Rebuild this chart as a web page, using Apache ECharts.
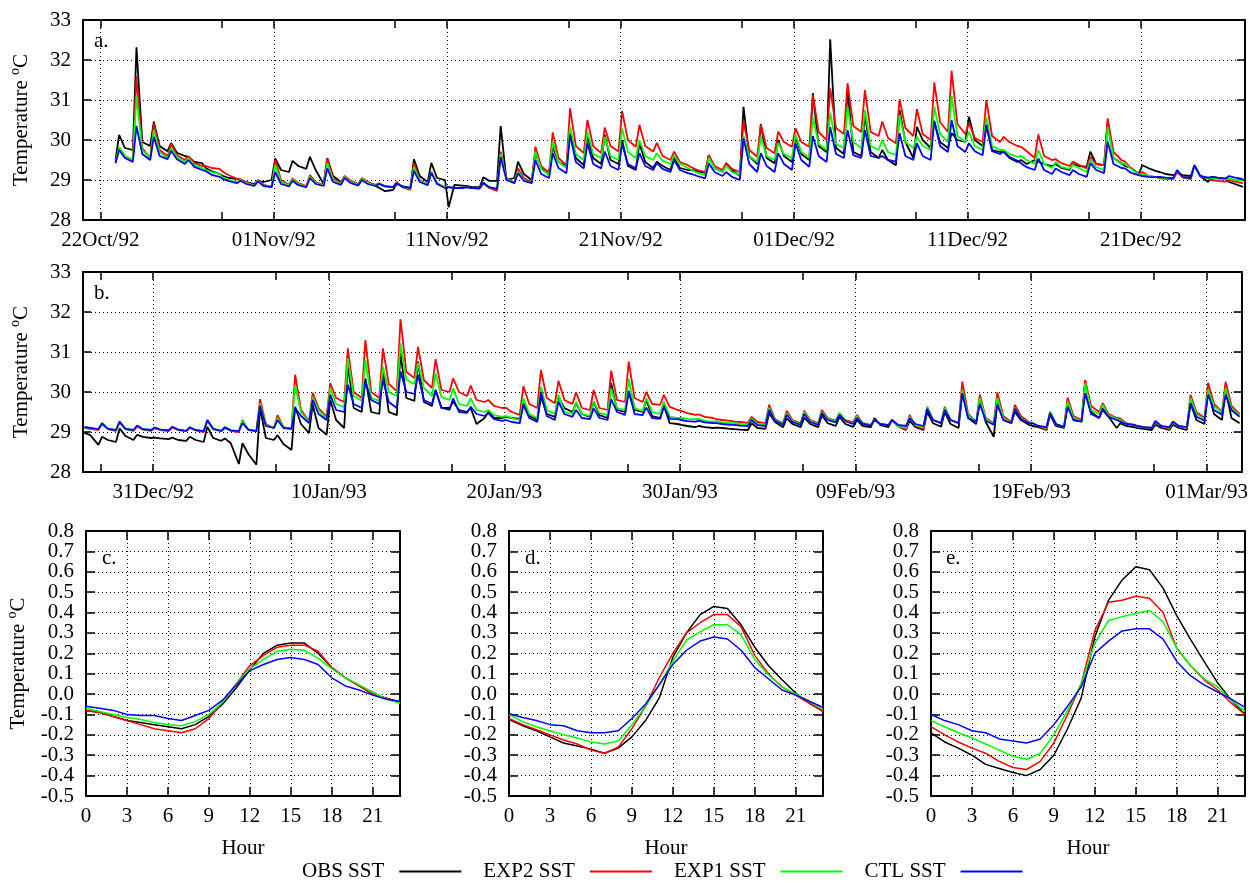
<!DOCTYPE html>
<html><head><meta charset="utf-8">
<script src="https://cdn.jsdelivr.net/npm/echarts@6/dist/echarts.min.js"></script>
<style>html,body{margin:0;padding:0;background:#fff}#c{width:1251px;height:883px}</style>
</head><body><div id="c"></div>
<script>
// ---------------- DATA ----------------
// x values are days since 21 Oct 1992 00:00
const seriesNames = ['OBS SST', 'EXP2 SST', 'EXP1 SST', 'CTL SST'];
const seriesColors = ['#000000', '#ff0000', '#00ff00', '#0000ff'];

const rangeA = [0, 67];            // 21Oct/92 .. 27Dec/92
const tickDaysA = [1, 11, 21, 31, 41, 51, 61];
const tickLabelsA = ['22Oct/92', '01Nov/92', '11Nov/92', '21Nov/92', '01Dec/92', '11Dec/92', '21Dec/92'];
const minorDaysA = [8, 18, 28, 38, 48, 58];

const rangeB = [67, 133];          // 27Dec/92 .. 03Mar/93
const tickDaysB = [71, 81, 91, 101, 111, 121, 131];
const tickLabelsB = ['31Dec/92', '10Jan/93', '20Jan/93', '30Jan/93', '09Feb/93', '19Feb/93', '01Mar/93'];
const minorDaysB = [68, 78, 88, 98, 108, 118, 128];

// each day: values at these hours (afternoon peak, decay, pre-dawn trough)
const sampleHours = [2, 10, 21];
const firstDayA = 1;   // 22Oct/92
const firstDayB = 67;  // 27Dec/92

// Panel a (22Oct..26Dec), triples per day
const obsA = [
 null,null,29.5, 30.13,29.8,29.75, 32.32,29.95,29.85, 30.46,29.85,29.72, 29.92,29.68,29.6,
 29.58,29.45,29.42, 29.3,29.22,29.15, 29.1,29.05,29.03, 29.0,28.95,28.9, 28.98,28.95,29.0,
 29.54,29.25,29.2, 29.48,29.35,29.28, 29.58,29.25,28.9, 29.55,29.1,28.95, 29.08,28.98,28.88,
 29.03,28.95,28.85, 28.8,28.72,28.75, 28.9,28.85,28.8, 29.52,29.1,28.95, 29.43,29.05,29.0,
 28.32,28.88,28.86, 28.85,28.83,28.82, 29.07,28.98,28.98, 30.35,29.0,29.05, 29.46,29.15,29.0,
 29.67,29.3,29.2, 29.83,29.45,29.35, 30.21,29.55,29.37, 30.1,29.55,29.4, 30.13,29.5,29.4,
 30.0,29.35,29.25, 29.92,29.45,29.3, 29.46,29.35,29.25, 29.55,29.3,29.25, 29.25,29.22,29.18,
 29.62,29.3,29.2, 29.42,29.25,29.1, 30.83,29.6,29.4, 30.4,29.55,29.42, 30.0,29.6,29.45,
 30.08,29.65,29.5, 31.17,29.85,29.7, 32.52,29.8,29.65, 31.25,29.7,29.6, 30.63,29.7,29.55,
 29.75,29.5,29.37, 30.75,29.95,29.55, 30.33,30.0,29.8, 30.45,29.95,29.8, 30.17,30.0,29.95,
 30.58,30.0,29.85, 30.33,29.75,29.7, 29.7,29.55,29.45, 29.5,29.4,29.5, 29.46,29.4,29.35,
 29.4,29.3,29.25, 29.4,29.35,29.33, 29.71,29.4,29.37, 30.46,29.55,29.42, 29.35,29.3,29.15,
 29.37,29.3,29.22, 29.2,29.15,29.12, 29.18,29.12,29.1, 29.37,29.1,28.95, 29.08,29.05,29.02,
 28.95,28.9,28.83
];
const exp2A = [
 null,null,29.45, 29.8,29.6,29.5, 31.6,29.8,29.55, 30.42,29.75,29.6, 29.9,29.62,29.5,
 29.6,29.42,29.35, 29.35,29.3,29.28, 29.2,29.12,29.03, 29.02,28.94,28.87, 29.0,28.88,28.83,
 29.5,29.0,28.88, 29.04,28.92,28.85, 29.12,28.95,28.88, 29.54,29.05,28.92, 29.1,28.98,28.9,
 29.05,28.95,28.88, 28.92,28.85,28.82, 28.95,28.82,28.75, 29.42,29.0,28.88, 29.2,28.92,28.82,
 28.82,28.8,28.8, 28.82,28.8,28.78, 28.92,28.8,28.73, 29.71,29.05,28.93, 29.29,29.05,28.95,
 29.83,29.35,29.17, 30.19,29.55,29.37, 30.79,29.85,29.67, 30.5,29.85,29.67, 30.31,29.85,29.71,
 30.73,30.0,29.83, 30.38,29.85,29.71, 29.93,29.6,29.5, 29.71,29.45,29.37, 29.32,29.25,29.2,
 29.62,29.35,29.25, 29.42,29.28,29.2, 30.46,29.75,29.58, 30.38,29.8,29.67, 30.21,29.95,29.83,
 30.29,29.95,29.83, 31.12,30.2,30.0, 31.29,30.3,30.15, 31.42,30.35,30.2, 31.25,30.2,30.1,
 30.46,30.05,29.92, 31.02,30.3,30.1, 30.77,30.15,30.0, 31.44,30.45,30.2, 31.73,30.4,30.15,
 30.42,30.05,29.95, 31.0,30.1,29.95, 30.08,29.95,29.85, 29.83,29.72,29.55, 30.14,29.6,29.5,
 29.52,29.42,29.35, 29.46,29.38,29.29, 29.58,29.4,29.37, 30.54,29.7,29.5, 29.46,29.3,29.15,
 29.2,29.1,29.07, 29.04,29.03,29.02, 29.2,29.06,29.02, 29.37,29.1,29.04, 29.0,28.98,28.96,
 29.0,28.96,28.92
];
const exp1A = [
 null,null,29.45, 29.82,29.6,29.5, 31.1,29.75,29.55, 30.25,29.7,29.55, 29.8,29.58,29.45,
 29.55,29.38,29.3, 29.25,29.2,29.15, 29.05,29.0,28.95, 29.0,28.92,28.86, 28.98,28.87,28.83,
 29.38,28.95,28.87, 29.02,28.9,28.84, 29.08,28.93,28.87, 29.42,29.0,28.9, 29.08,28.96,28.88,
 29.03,28.93,28.86, 28.9,28.84,28.82, 28.92,28.83,28.78, 29.33,28.98,28.88, 29.2,28.92,28.82,
 28.82,28.8,28.8, 28.82,28.8,28.8, 28.93,28.82,28.78, 29.65,29.02,28.93, 29.22,29.0,28.93,
 29.71,29.28,29.12, 29.96,29.45,29.3, 30.33,29.65,29.5, 30.21,29.65,29.55, 30.08,29.6,29.5,
 30.29,29.7,29.55, 30.0,29.6,29.5, 29.67,29.48,29.4, 29.62,29.4,29.3, 29.25,29.18,29.12,
 29.55,29.3,29.2, 29.35,29.2,29.12, 30.1,29.6,29.45, 30.08,29.6,29.5, 29.93,29.65,29.55,
 30.13,29.7,29.55, 30.57,29.9,29.75, 30.68,29.9,29.8, 30.83,29.95,29.8, 30.75,29.85,29.75,
 30.0,29.7,29.62, 30.63,29.95,29.8, 30.08,29.85,29.75, 30.83,30.15,29.95, 31.1,30.1,29.95,
 30.21,29.85,29.75, 30.58,29.85,29.75, 29.75,29.65,29.58, 29.6,29.5,29.4, 29.75,29.4,29.3,
 29.45,29.32,29.28, 29.38,29.3,29.2, 29.5,29.32,29.25, 30.33,29.55,29.4, 29.42,29.28,29.13,
 29.15,29.1,29.07, 29.06,29.05,29.04, 29.25,29.08,29.04, 29.37,29.1,29.05, 29.05,29.03,29.02,
 29.05,29.0,28.98
];
const ctlA = [
 null,null,29.42, 29.75,29.55,29.45, 30.35,29.65,29.5, 30.08,29.6,29.52, 29.73,29.52,29.4,
 29.5,29.33,29.25, 29.22,29.13,29.08, 29.02,28.97,28.92, 28.98,28.9,28.85, 28.97,28.85,28.82,
 29.2,28.9,28.84, 28.98,28.87,28.82, 29.05,28.9,28.85, 29.29,28.95,28.88, 29.05,28.93,28.86,
 29.0,28.9,28.85, 28.9,28.84,28.82, 28.92,28.83,28.8, 29.23,28.95,28.87, 29.18,28.9,28.8,
 28.82,28.8,28.8, 28.82,28.8,28.8, 28.93,28.82,28.78, 29.57,29.0,28.92, 29.17,28.98,28.92,
 29.5,29.15,29.05, 29.67,29.3,29.17, 30.13,29.45,29.29, 29.92,29.4,29.29, 29.71,29.35,29.25,
 29.9,29.4,29.29, 29.67,29.35,29.25, 29.43,29.28,29.2, 29.5,29.25,29.17, 29.15,29.1,29.04,
 29.42,29.2,29.1, 29.2,29.08,29.0, 30.04,29.4,29.2, 29.67,29.35,29.2, 29.67,29.4,29.25,
 29.92,29.5,29.33, 30.1,29.6,29.45, 30.32,29.65,29.55, 30.25,29.62,29.55, 30.25,29.6,29.55,
 29.6,29.5,29.46, 30.17,29.6,29.5, 29.92,29.6,29.5, 30.48,29.85,29.7, 30.5,29.85,29.7,
 29.92,29.72,29.62, 30.38,29.72,29.65, 29.71,29.58,29.48, 29.42,29.32,29.25, 29.54,29.25,29.15,
 29.29,29.2,29.12, 29.25,29.15,29.08, 29.42,29.25,29.17, 29.96,29.4,29.3, 29.29,29.18,29.12,
 29.1,29.08,29.07, 29.08,29.06,29.05, 29.25,29.08,29.05, 29.37,29.1,29.06, 29.08,29.06,29.04,
 29.1,29.06,29.03
];

// Panel b (27Dec..02Mar), triples per day
const obsB = [
 28.98,28.92,28.68, 28.88,28.8,28.75, 29.09,28.9,28.8, 28.93,28.88,28.85, 28.86,28.84,28.82,
 28.86,28.8,28.78, 28.88,28.8,28.75, 29.13,28.85,28.78, 28.84,28.72,28.2, 28.72,28.45,28.18,
 29.6,28.85,28.8, 28.92,28.7,28.55, 29.63,29.2,28.97, 29.68,29.1,28.93, 29.8,29.3,29.1,
 30.68,29.6,29.5, 30.34,29.5,29.45, 30.55,29.5,29.42, 30.97,29.85,29.78, 30.76,29.75,29.65,
 30.05,29.6,29.6, 29.76,29.55,29.5, 29.6,29.2,29.35, 29.5,29.35,29.35, 29.38,29.35,29.33,
 29.72,29.4,29.3, 29.88,29.45,29.38, 29.88,29.6,29.5, 29.72,29.45,29.38, 29.76,29.42,29.35,
 30.22,29.55,29.5, 30.0,29.55,29.5, 29.8,29.4,29.35, 29.67,29.22,29.2, 29.18,29.15,29.12,
 29.15,29.12,29.1, 29.11,29.1,29.08, 29.07,29.06,29.05, 29.22,29.1,29.08, 29.47,29.25,29.12,
 29.34,29.2,29.12, 29.36,29.2,29.12, 29.42,29.22,29.15, 29.38,29.2,29.13, 29.3,29.15,29.12,
 29.35,29.17,29.12, 29.3,29.15,29.05, 29.28,29.12,29.05, 29.5,29.22,29.13, 29.5,29.2,29.1,
 30.0,29.35,29.2, 29.85,29.25,28.88, 29.76,29.3,29.22, 29.5,29.3,29.18, 29.15,29.12,29.05,
 29.43,29.15,29.1, 29.72,29.3,29.26, 30.26,29.5,29.35, 29.55,29.38,29.1, 29.22,29.15,29.12,
 29.1,29.08,29.05, 29.18,29.1,29.05, 29.18,29.1,29.05, 29.72,29.3,29.2, 30.05,29.45,29.3,
 30.05,29.35,29.22
];
const exp2B = [
 29.1,29.08,29.05, 29.2,29.07,29.03, 29.24,29.07,29.03, 29.14,29.06,29.03, 29.09,29.05,29.02,
 29.11,29.05,29.02, 29.1,29.04,29.0, 29.28,29.07,29.02, 29.1,29.03,29.0, 29.3,29.05,29.02,
 29.82,29.2,29.1, 29.42,29.12,29.08, 30.43,29.55,29.27, 29.98,29.6,29.38, 30.22,29.85,29.75,
 31.09,30.0,29.85, 31.3,30.0,29.85, 31.09,30.2,30.02, 31.82,30.5,30.35, 31.13,30.3,30.1,
 30.82,30.05,30.0, 30.34,30.0,29.9, 30.16,29.8,29.75, 29.8,29.65,29.6, 29.61,29.5,29.43,
 30.15,29.7,29.6, 30.55,29.85,29.72, 30.28,29.8,29.7, 29.99,29.6,29.55, 30.05,29.6,29.55,
 30.53,29.8,29.75, 30.76,29.85,29.75, 30.0,29.7,29.68, 29.93,29.63,29.55, 29.53,29.47,29.43,
 29.44,29.38,29.35, 29.32,29.3,29.28, 29.26,29.25,29.23, 29.38,29.25,29.22, 29.68,29.32,29.22,
 29.53,29.3,29.22, 29.53,29.3,29.22, 29.55,29.35,29.28, 29.47,29.3,29.25, 29.43,29.22,29.18,
 29.3,29.2,29.17, 29.3,29.15,29.05, 29.43,29.15,29.08, 29.63,29.3,29.22, 29.63,29.3,29.22,
 30.26,29.45,29.25, 29.94,29.35,29.22, 29.99,29.4,29.25, 29.68,29.4,29.25, 29.22,29.15,29.05,
 29.51,29.2,29.12, 29.86,29.4,29.3, 30.3,29.65,29.5, 29.72,29.45,29.35, 29.34,29.22,29.18,
 29.13,29.12,29.1, 29.22,29.15,29.08, 29.25,29.15,29.1, 29.93,29.5,29.35, 30.23,29.7,29.5,
 30.26,29.65,29.45
];
const exp1B = [
 29.12,29.09,29.06, 29.22,29.08,29.05, 29.26,29.08,29.05, 29.16,29.07,29.05, 29.11,29.06,29.04,
 29.13,29.06,29.03, 29.12,29.05,29.02, 29.3,29.08,29.03, 29.12,29.04,29.02, 29.28,29.06,29.02,
 29.72,29.18,29.1, 29.35,29.12,29.08, 30.17,29.5,29.25, 29.88,29.55,29.33, 30.09,29.7,29.62,
 30.84,29.9,29.78, 30.8,29.85,29.78, 30.63,30.0,29.9, 31.22,30.3,30.2, 30.72,30.1,29.9,
 30.47,29.88,29.8, 30.09,29.7,29.65, 29.84,29.55,29.5, 29.55,29.42,29.38, 29.4,29.35,29.3,
 29.84,29.45,29.35, 30.13,29.55,29.45, 29.93,29.5,29.45, 29.75,29.45,29.4, 29.76,29.48,29.42,
 30.09,29.6,29.55, 30.33,29.6,29.52, 29.85,29.5,29.45, 29.76,29.38,29.35, 29.35,29.33,29.32,
 29.33,29.28,29.26, 29.27,29.24,29.22, 29.22,29.2,29.18, 29.33,29.2,29.2, 29.6,29.3,29.2,
 29.47,29.28,29.2, 29.5,29.28,29.2, 29.5,29.33,29.26, 29.47,29.28,29.22, 29.4,29.2,29.17,
 29.3,29.2,29.17, 29.3,29.15,29.1, 29.38,29.18,29.12, 29.63,29.3,29.22, 29.6,29.3,29.22,
 30.05,29.42,29.25, 29.85,29.33,29.2, 29.85,29.35,29.22, 29.6,29.35,29.23, 29.22,29.15,29.1,
 29.5,29.2,29.12, 29.76,29.35,29.28, 30.22,29.55,29.45, 29.68,29.42,29.33, 29.3,29.2,29.18,
 29.14,29.12,29.1, 29.26,29.15,29.1, 29.25,29.15,29.11, 29.85,29.45,29.32, 30.05,29.65,29.48,
 30.09,29.6,29.42
];
const ctlB = [
 29.13,29.1,29.07, 29.22,29.08,29.05, 29.26,29.08,29.05, 29.16,29.07,29.05, 29.11,29.06,29.04,
 29.13,29.06,29.03, 29.12,29.05,29.02, 29.3,29.08,29.03, 29.12,29.04,29.02, 29.22,29.06,29.02,
 29.65,29.15,29.1, 29.3,29.1,29.08, 29.6,29.4,29.22, 29.8,29.45,29.3, 29.93,29.55,29.5,
 30.18,29.7,29.6, 30.26,29.8,29.7, 30.3,29.75,29.6, 30.51,30.0,29.95, 30.43,29.8,29.7,
 30.05,29.6,29.55, 29.84,29.5,29.48, 29.63,29.45,29.4, 29.47,29.32,29.28, 29.3,29.25,29.22,
 29.68,29.35,29.25, 30.0,29.4,29.3, 29.76,29.45,29.38, 29.55,29.35,29.32, 29.59,29.35,29.3,
 29.82,29.5,29.43, 30.03,29.45,29.42, 29.61,29.35,29.33, 29.63,29.33,29.32, 29.3,29.27,29.26,
 29.28,29.24,29.22, 29.22,29.2,29.18, 29.18,29.16,29.15, 29.3,29.17,29.15, 29.55,29.28,29.18,
 29.43,29.25,29.18, 29.45,29.25,29.18, 29.47,29.3,29.24, 29.43,29.27,29.2, 29.35,29.2,29.16,
 29.3,29.2,29.17, 29.3,29.18,29.15, 29.34,29.2,29.15, 29.58,29.3,29.22, 29.55,29.3,29.22,
 29.97,29.35,29.25, 29.7,29.28,29.18, 29.68,29.3,29.22, 29.58,29.33,29.22, 29.22,29.15,29.12,
 29.47,29.2,29.12, 29.63,29.3,29.26, 29.97,29.45,29.35, 29.59,29.38,29.3, 29.26,29.2,29.18,
 29.15,29.12,29.1, 29.28,29.15,29.12, 29.26,29.15,29.12, 29.72,29.38,29.28, 29.93,29.55,29.43,
 29.93,29.55,29.38
];

// Panels c, d, e: mean diurnal cycle, hours 0..23
const hours = [0,1,2,3,4,5,6,7,8,9,10,11,12,13,14,15,16,17,18,19,20,21,22,23];
const hourTicks = [0,3,6,9,12,15,18,21];
const diurnalTicks = [-0.5,-0.4,-0.3,-0.2,-0.1,0.0,0.1,0.2,0.3,0.4,0.5,0.6,0.7,0.8];
const obsC  = [-0.08,-0.09,-0.11,-0.13,-0.14,-0.15,-0.16,-0.17,-0.15,-0.11,-0.05,0.03,0.12,0.2,0.24,0.25,0.25,0.2,0.13,0.08,0.04,0.0,-0.02,-0.04];
const exp2C = [-0.08,-0.09,-0.11,-0.13,-0.15,-0.17,-0.18,-0.19,-0.17,-0.12,-0.04,0.05,0.14,0.19,0.23,0.24,0.24,0.21,0.13,0.08,0.04,0.0,-0.02,-0.04];
const exp1C = [-0.07,-0.085,-0.1,-0.115,-0.125,-0.14,-0.15,-0.155,-0.135,-0.1,-0.04,0.05,0.125,0.17,0.21,0.22,0.215,0.175,0.125,0.08,0.045,0.01,-0.025,-0.045];
const ctlC  = [-0.06,-0.07,-0.08,-0.1,-0.105,-0.105,-0.12,-0.13,-0.105,-0.08,-0.03,0.045,0.115,0.145,0.17,0.18,0.17,0.145,0.08,0.04,0.02,-0.005,-0.025,-0.035];
const obsD  = [-0.125,-0.155,-0.18,-0.21,-0.24,-0.255,-0.27,-0.29,-0.265,-0.21,-0.13,-0.02,0.18,0.3,0.39,0.43,0.42,0.34,0.23,0.14,0.07,0.005,-0.045,-0.085];
const exp2D = [-0.12,-0.15,-0.175,-0.2,-0.225,-0.245,-0.275,-0.29,-0.26,-0.17,-0.06,0.08,0.2,0.3,0.35,0.39,0.39,0.33,0.19,0.1,0.035,-0.005,-0.045,-0.085];
const exp1D = [-0.1,-0.135,-0.16,-0.18,-0.2,-0.215,-0.235,-0.245,-0.23,-0.15,-0.06,0.045,0.16,0.265,0.305,0.34,0.34,0.29,0.17,0.095,0.035,0.0,-0.035,-0.075];
const ctlD  = [-0.095,-0.115,-0.13,-0.15,-0.155,-0.18,-0.19,-0.19,-0.18,-0.12,-0.05,0.045,0.145,0.215,0.26,0.28,0.27,0.215,0.13,0.075,0.02,-0.005,-0.035,-0.065];
const obsE  = [-0.19,-0.235,-0.265,-0.3,-0.345,-0.365,-0.385,-0.4,-0.37,-0.3,-0.17,-0.02,0.28,0.46,0.56,0.625,0.61,0.52,0.385,0.27,0.16,0.055,-0.03,-0.1];
const exp2E = [-0.16,-0.2,-0.235,-0.265,-0.29,-0.33,-0.36,-0.37,-0.33,-0.24,-0.1,0.05,0.31,0.45,0.46,0.48,0.47,0.4,0.225,0.14,0.07,0.02,-0.045,-0.1];
const exp1E = [-0.13,-0.16,-0.19,-0.215,-0.245,-0.275,-0.305,-0.32,-0.29,-0.2,-0.08,0.05,0.25,0.36,0.38,0.395,0.41,0.355,0.225,0.14,0.075,0.035,-0.03,-0.085];
const ctlE  = [-0.1,-0.13,-0.15,-0.18,-0.19,-0.22,-0.23,-0.24,-0.22,-0.15,-0.06,0.035,0.2,0.26,0.31,0.32,0.32,0.27,0.16,0.09,0.045,0.01,-0.025,-0.065];

// ---------------- CHART ----------------
const FONT = 'Liberation Serif';
const FS = 21;
const BLACK = '#000';
const dotted = { show: true, lineStyle: { color: BLACK, width: 1, type: [1, 3] } };
const borderLine = { show: true, onZero: false, lineStyle: { color: BLACK, width: 2 } };
const tickStyle = (vals, len) => ({ show: true, inside: true, length: len, customValues: vals, lineStyle: { color: BLACK, width: 1.5 } });
const labelFont = { fontFamily: FONT, fontSize: FS, color: BLACK };
const tempName = '{t|Temperature }{s|o}{t|C}';
const tempNameStyle = { fontFamily: FONT, fontSize: FS, color: BLACK,
  rich: { t: { fontFamily: FONT, fontSize: FS, color: BLACK }, s: { fontFamily: FONT, fontSize: 14, color: BLACK, padding: [0, 0, 12, 0] } } };
const fmt1 = v => (Math.abs(v) < 1e-9 ? 0 : v).toFixed(1);
// labels split over two overlaid axes so the library never drops crowded ones
const diurnalLabelsA = diurnalTicks.filter((v, i) => i % 2 === 0);
const diurnalLabelsB = diurnalTicks.filter((v, i) => i % 2 === 1);

function toPoints(arr, firstDay) {
  const pts = [];
  for (let i = 0; i < arr.length; i++) {
    if (arr[i] == null) continue;
    pts.push([firstDay + Math.floor(i / 3) + sampleHours[i % 3] / 24, arr[i]]);
  }
  return pts;
}
function hourPoints(arr) { return hours.map((h, i) => [h, arr[i]]); }

const grids = [
  { left: 82, top: 20, width: 1163, height: 200 },
  { left: 82, top: 272, width: 1163, height: 200 },
  { left: 86, top: 531, width: 314, height: 265 },
  { left: 509, top: 531, width: 314, height: 265 },
  { left: 931, top: 531, width: 314, height: 265 }
];

const xAxes = [];
const yAxes = [];
function timePanel(g, range, tDays, tLabels, mDays) {
  const main = xAxes.length;
  xAxes.push({ type: 'value', gridIndex: g, position: 'bottom', min: range[0], max: range[1],
    axisLine: borderLine, axisTick: tickStyle(tDays, 8),
    axisLabel: Object.assign({ show: true, customValues: tDays, margin: 10,
      formatter: v => { const i = tDays.findIndex(d => Math.abs(d - v) < 1e-6); return i >= 0 ? tLabels[i] : ''; } }, labelFont),
    splitLine: dotted });
  xAxes.push({ type: 'value', gridIndex: g, position: 'bottom', min: range[0], max: range[1],
    axisLine: { show: false }, axisTick: tickStyle(mDays, 8), axisLabel: { show: false }, splitLine: { show: false } });
  xAxes.push({ type: 'value', gridIndex: g, position: 'top', min: range[0], max: range[1],
    axisLine: borderLine, axisTick: tickStyle(tDays.concat(mDays).sort((a, b) => a - b), 8),
    axisLabel: { show: false }, splitLine: { show: false } });
  const yMain = yAxes.length;
  yAxes.push({ type: 'value', gridIndex: g, position: 'left', min: 28, max: 33, interval: 1,
    axisLine: borderLine, axisTick: { show: true, inside: true, length: 8, lineStyle: { color: BLACK, width: 1.5 } },
    axisLabel: Object.assign({ margin: 12, showMinLabel: true, showMaxLabel: true }, labelFont), splitLine: dotted,
    name: tempName, nameLocation: 'middle', nameGap: 49, nameTextStyle: tempNameStyle });
  yAxes.push({ type: 'value', gridIndex: g, position: 'right', min: 28, max: 33, interval: 1,
    axisLine: borderLine, axisTick: { show: true, inside: true, length: 8, lineStyle: { color: BLACK, width: 1.5 } },
    axisLabel: { show: false }, splitLine: { show: false } });
  return [main, yMain];
}
function hourPanel(g, withName) {
  const main = xAxes.length;
  xAxes.push({ type: 'value', gridIndex: g, position: 'bottom', min: 0, max: 23,
    axisLine: borderLine, axisTick: tickStyle(hourTicks, 9),
    axisLabel: Object.assign({ show: true, customValues: hourTicks, margin: 10 }, labelFont),
    splitLine: dotted, name: 'Hour', nameLocation: 'middle', nameGap: 42,
    nameTextStyle: labelFont });
  xAxes.push({ type: 'value', gridIndex: g, position: 'top', min: 0, max: 23,
    axisLine: borderLine, axisTick: tickStyle(hourTicks, 9), axisLabel: { show: false }, splitLine: { show: false } });
  const yMain = yAxes.length;
  const ya = { type: 'value', gridIndex: g, position: 'left', min: -0.5, max: 0.8,
    axisLine: borderLine, axisTick: tickStyle(diurnalTicks, 9),
    axisLabel: Object.assign({ margin: 12, customValues: diurnalLabelsB, showMinLabel: true, showMaxLabel: true,
      formatter: fmt1 }, labelFont),
    splitLine: dotted };
  if (withName) Object.assign(ya, { name: tempName, nameLocation: 'middle', nameGap: 55, nameTextStyle: tempNameStyle });
  yAxes.push(ya);
  yAxes.push({ type: 'value', gridIndex: g, position: 'left', min: -0.5, max: 0.8,
    axisLine: { show: false }, axisTick: { show: false },
    axisLabel: Object.assign({ margin: 12, customValues: diurnalLabelsA, showMinLabel: true, showMaxLabel: true,
      formatter: fmt1 }, labelFont),
    splitLine: { show: false } });
  yAxes.push({ type: 'value', gridIndex: g, position: 'right', min: -0.5, max: 0.8,
    axisLine: borderLine, axisTick: tickStyle(diurnalTicks, 9),
    axisLabel: { show: false }, splitLine: { show: false } });
  return [main, yMain];
}

const series = [];
function addSeries(idx, datasets, width) {
  datasets.forEach((d, i) => {
    series.push({ type: 'line', name: seriesNames[i], xAxisIndex: idx[0], yAxisIndex: idx[1], data: d,
      showSymbol: false, symbol: 'none', clip: true, color: seriesColors[i],
      lineStyle: { color: seriesColors[i], width: width }, emphasis: { disabled: true }, silent: true });
  });
}

const pa = timePanel(0, rangeA, tickDaysA, tickLabelsA, minorDaysA);
addSeries(pa, [obsA, exp2A, exp1A, ctlA].map(a => toPoints(a, firstDayA)), 1.8);
const pb = timePanel(1, rangeB, tickDaysB, tickLabelsB, minorDaysB);
addSeries(pb, [obsB, exp2B, exp1B, ctlB].map(a => toPoints(a, firstDayB)), 1.8);
const pc = hourPanel(2, true);
addSeries(pc, [obsC, exp2C, exp1C, ctlC].map(hourPoints), 1.5);
const pd = hourPanel(3, false);
addSeries(pd, [obsD, exp2D, exp1D, ctlD].map(hourPoints), 1.5);
const pe = hourPanel(4, false);
addSeries(pe, [obsE, exp2E, exp1E, ctlE].map(hourPoints), 1.5);

const panelLabel = (text, x, y) => ({ type: 'text', left: x, top: y, z: 100,
  style: { text: text, font: FS + 'px "' + FONT + '"', fill: BLACK } });

const chart = echarts.init(document.getElementById('c'), null, { renderer: 'canvas' });
chart.setOption({
  animation: false,
  backgroundColor: '#fff',
  grid: grids,
  xAxis: xAxes,
  yAxis: yAxes,
  series: series,
  legend: {
    data: seriesNames, left: 302, top: 861, padding: 0, itemGap: 22,
    icon: 'rect', itemWidth: 62, itemHeight: 2, align: 'right', selectedMode: false,
    textStyle: { fontFamily: FONT, fontSize: FS, color: BLACK, padding: [0, 10, 0, 0] }
  },
  graphic: [
    panelLabel('a.', 94, 31),
    panelLabel('b.', 94, 283),
    panelLabel('c.', 102, 548),
    panelLabel('d.', 525, 548),
    panelLabel('e.', 946, 548)
  ]
});
</script></body></html>
